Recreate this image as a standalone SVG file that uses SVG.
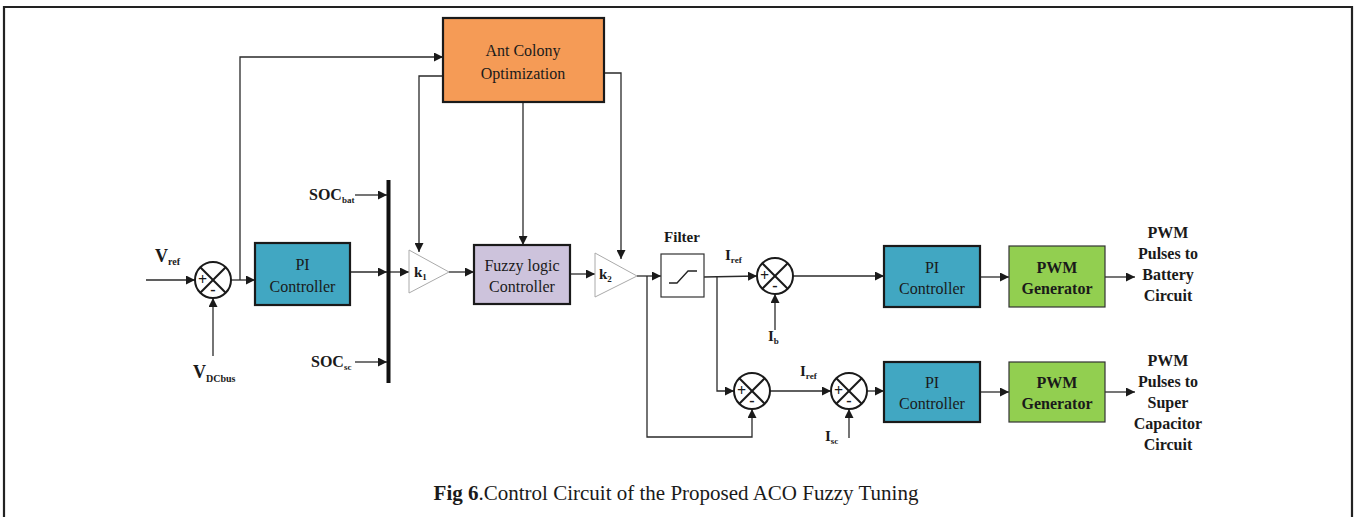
<svg xmlns="http://www.w3.org/2000/svg" width="1356" height="517" viewBox="0 0 1356 517" font-family="'Liberation Serif', 'DejaVu Serif', serif">
  <style>
    text { font-family: 'Liberation Serif', 'DejaVu Serif', serif; fill: #1a1a1a; }
    .lbl { font-size: 16px; text-anchor: middle; }
    .b { font-weight: bold; }
    .sub { font-size: 10px; font-weight: bold; }
    .box { stroke: #1a1a1a; stroke-width: 2.2; }
    .wire { fill: none; stroke: #2a2a2a; stroke-width: 1.3; }
    .sum { fill: #fff; stroke: #1a1a1a; stroke-width: 2; }
    .x { stroke: #1a1a1a; stroke-width: 2; }
    .gain { fill: #fff; stroke: #aaa; stroke-width: 1; }
  </style>
  <defs>
    <marker id="arr" viewBox="0 0 10 10" refX="10" refY="5" markerWidth="9" markerHeight="9" markerUnits="userSpaceOnUse" orient="auto">
      <path d="M0,0 L10,5 L0,10 z" fill="#1a1a1a"/>
    </marker>
    <g id="sumj">
      <circle r="18" class="sum"/>
      <line x1="-12.7" y1="-12.7" x2="12.7" y2="12.7" class="x"/>
      <line x1="-12.7" y1="12.7" x2="12.7" y2="-12.7" class="x"/>
      <text x="-10.5" y="5" class="b" font-size="16" text-anchor="middle">+</text>
      <text x="0" y="15" class="b" font-size="16" text-anchor="middle">-</text>
    </g>
  </defs>

  <rect width="1356" height="517" fill="#fff"/>
  <!-- outer frame -->
  <path d="M4,525 V7 H1352 V525" fill="none" stroke="#222" stroke-width="2.2"/>

  <!-- connectors -->
  <g id="connectors">
    <line x1="146" y1="280" x2="195" y2="280" class="wire" marker-end="url(#arr)"/>
    <line x1="213" y1="356" x2="213" y2="298" class="wire" marker-end="url(#arr)"/>
    <line x1="231" y1="280" x2="255" y2="280" class="wire" marker-end="url(#arr)"/>
    <polyline points="240,280 240,57 443,57" class="wire" marker-end="url(#arr)"/>
    <line x1="350" y1="272" x2="387" y2="272" class="wire" marker-end="url(#arr)"/>
    <line x1="355" y1="195" x2="387" y2="195" class="wire" marker-end="url(#arr)"/>
    <line x1="355" y1="362" x2="387" y2="362" class="wire" marker-end="url(#arr)"/>
    <line x1="390" y1="272" x2="409" y2="272" class="wire" marker-end="url(#arr)"/>
    <polyline points="443,76 419,76 419,252" class="wire" marker-end="url(#arr)"/>
    <line x1="523" y1="102" x2="523" y2="245" class="wire" marker-end="url(#arr)"/>
    <polyline points="604,73 621,73 621,259" class="wire" marker-end="url(#arr)"/>
    <line x1="449" y1="272" x2="474" y2="272" class="wire" marker-end="url(#arr)"/>
    <line x1="570" y1="274" x2="595" y2="274" class="wire" marker-end="url(#arr)"/>
    <line x1="637" y1="276" x2="661" y2="276" class="wire" marker-end="url(#arr)"/>
    <polyline points="647,276 647,437 752,437 752,409" class="wire" marker-end="url(#arr)"/>
    <line x1="704" y1="277" x2="757" y2="276" class="wire" marker-end="url(#arr)"/>
    <polyline points="717,277 717,391 734,391" class="wire" marker-end="url(#arr)"/>
    <line x1="775" y1="330" x2="775" y2="294" class="wire" marker-end="url(#arr)"/>
    <line x1="793" y1="276" x2="884" y2="276" class="wire" marker-end="url(#arr)"/>
    <line x1="980" y1="277" x2="1009" y2="277" class="wire" marker-end="url(#arr)"/>
    <line x1="1105" y1="277" x2="1135" y2="277" class="wire" marker-end="url(#arr)"/>
    <line x1="770" y1="391" x2="831" y2="391" class="wire" marker-end="url(#arr)"/>
    <line x1="849" y1="438" x2="849" y2="409" class="wire" marker-end="url(#arr)"/>
    <line x1="867" y1="391" x2="884" y2="391" class="wire" marker-end="url(#arr)"/>
    <line x1="980" y1="392" x2="1009" y2="392" class="wire" marker-end="url(#arr)"/>
    <line x1="1105" y1="392" x2="1135" y2="392" class="wire" marker-end="url(#arr)"/>
  </g>

  <!-- Ant Colony Optimization -->
  <g id="aco">
    <rect x="443" y="18" width="161" height="84" fill="#f59b56" class="box"/>
    <text x="523" y="56" class="lbl">Ant Colony</text>
    <text x="523" y="79" class="lbl">Optimization</text>
  </g>

  <!-- voltage error junction -->
  <g id="sum-v">
    <use href="#sumj" x="213" y="280"/>
    <text x="155" y="262" class="b" font-size="18">V<tspan class="sub" dy="3">ref</tspan></text>
    <text x="193" y="378" class="b" font-size="18">V<tspan class="sub" dy="4">DCbus</tspan></text>
  </g>

  <!-- PI controller (voltage loop) -->
  <g id="pi-v">
    <rect x="255" y="243" width="95" height="62" fill="#41a7c2" class="box"/>
    <text x="302.5" y="270" class="lbl">PI</text>
    <text x="302.5" y="292" class="lbl">Controller</text>
  </g>

  <!-- signal bus -->
  <g id="bus">
    <line x1="388.5" y1="180" x2="388.5" y2="383" stroke="#111" stroke-width="4"/>
    <text x="309" y="200" class="b" font-size="16">SOC<tspan font-size="9" dy="3">bat</tspan></text>
    <text x="311" y="367" class="b" font-size="16">SOC<tspan font-size="9" dy="3">sc</tspan></text>
  </g>

  <!-- gain k1 -->
  <g id="k1">
    <polygon points="409,250 449,272 409,293" class="gain"/>
    <text x="414" y="277" class="b" font-size="15">k<tspan font-size="9" dy="3">1</tspan></text>
  </g>

  <!-- fuzzy logic controller -->
  <g id="flc">
    <rect x="474" y="245" width="96" height="59" fill="#cdc3dc" class="box"/>
    <text x="522" y="271" class="lbl">Fuzzy logic</text>
    <text x="522" y="292" class="lbl">Controller</text>
  </g>

  <!-- gain k2 -->
  <g id="k2">
    <polygon points="595,253 637,276 595,297" class="gain"/>
    <text x="599" y="279" class="b" font-size="15">k<tspan font-size="9" dy="3">2</tspan></text>
  </g>

  <!-- rate limiter / filter -->
  <g id="filter">
    <rect x="661" y="254" width="43" height="43" fill="#fff" stroke="#333" stroke-width="1.2"/>
    <polyline points="669,283 677,283 688,271 697,271" fill="none" stroke="#222" stroke-width="1.3"/>
    <text x="682" y="242" class="b" font-size="15" text-anchor="middle">Filter</text>
    <text x="725" y="260" class="b" font-size="15">I<tspan font-size="9" dy="3">ref</tspan></text>
  </g>

  <!-- battery current junction -->
  <g id="sum-b">
    <use href="#sumj" x="775" y="276"/>
    <text x="768" y="341" class="b" font-size="15">I<tspan font-size="9" dy="3">b</tspan></text>
  </g>

  <!-- PI controller (battery) -->
  <g id="pi-b">
    <rect x="884" y="246" width="96" height="61" fill="#41a7c2" class="box"/>
    <text x="932" y="273" class="lbl">PI</text>
    <text x="932" y="294" class="lbl">Controller</text>
  </g>

  <!-- PWM generator (battery) -->
  <g id="pwm-b">
    <rect x="1009" y="246" width="96" height="61" fill="#92cf50" stroke="#333" stroke-width="1.2"/>
    <text x="1057" y="273" class="lbl b">PWM</text>
    <text x="1057" y="294" class="lbl b">Generator</text>
  </g>

  <g id="out-b" class="b" font-size="16" text-anchor="middle">
    <text x="1168" y="238">PWM</text>
    <text x="1168" y="259">Pulses to</text>
    <text x="1168" y="280">Battery</text>
    <text x="1168" y="301">Circuit</text>
  </g>

  <!-- supercapacitor reference junction -->
  <g id="sum-s1">
    <use href="#sumj" x="752" y="391"/>
    <text x="800" y="376" class="b" font-size="15">I<tspan font-size="9" dy="3">ref</tspan></text>
  </g>

  <!-- supercapacitor current junction -->
  <g id="sum-s2">
    <use href="#sumj" x="849" y="391"/>
    <text x="825" y="441" class="b" font-size="15">I<tspan font-size="9" dy="3">sc</tspan></text>
  </g>

  <!-- PI controller (supercapacitor) -->
  <g id="pi-s">
    <rect x="884" y="362" width="96" height="60" fill="#41a7c2" class="box"/>
    <text x="932" y="388" class="lbl">PI</text>
    <text x="932" y="409" class="lbl">Controller</text>
  </g>

  <!-- PWM generator (supercapacitor) -->
  <g id="pwm-s">
    <rect x="1009" y="362" width="96" height="60" fill="#92cf50" stroke="#333" stroke-width="1.2"/>
    <text x="1057" y="388" class="lbl b">PWM</text>
    <text x="1057" y="409" class="lbl b">Generator</text>
  </g>

  <g id="out-s" class="b" font-size="16" text-anchor="middle">
    <text x="1168" y="366">PWM</text>
    <text x="1168" y="387">Pulses to</text>
    <text x="1168" y="408">Super</text>
    <text x="1168" y="429">Capacitor</text>
    <text x="1168" y="450">Circuit</text>
  </g>

  <!-- caption -->
  <text x="676" y="500" font-size="21" text-anchor="middle"><tspan font-weight="bold">Fig 6</tspan>.Control Circuit of the Proposed ACO Fuzzy Tuning</text>
</svg>
